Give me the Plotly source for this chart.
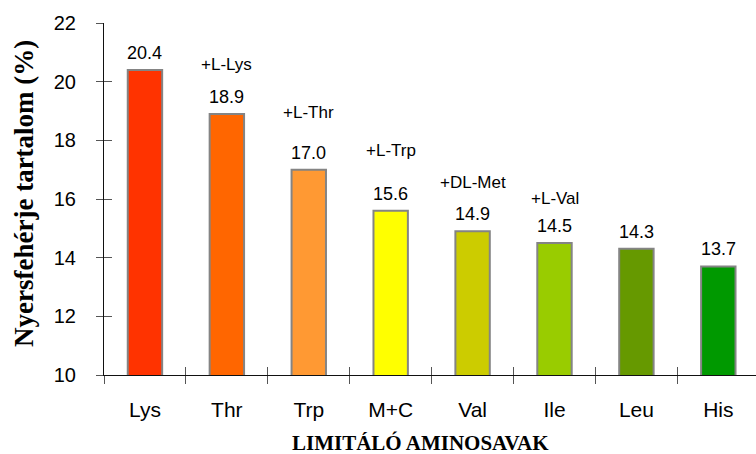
import plotly.graph_objects as go

# Limiting amino acids and crude protein content (%)
categories = ["Lys", "Thr", "Trp", "M+C", "Val", "Ile", "Leu", "His"]
protein = [20.4, 18.9, 17.0, 15.6, 14.9, 14.5, 14.3, 13.7]
bar_colors = ["#FF3300", "#FF6600", "#FF9933", "#FFFF00",
              "#CCCC00", "#99CC00", "#669900", "#009900"]

# Supplement notes shown above the bars
supplements = ["+L-Lys", "+L-Thr", "+L-Trp", "+DL-Met", "+L-Val"]
supplement_cats = ["Thr", "Trp", "M+C", "Val", "Ile"]
supplement_y = [20.57, 18.94, 17.65, 16.55, 16.03]

y_ticks = [10, 12, 14, 16, 18, 20, 22]

SANS = "Arial, Liberation Sans, sans-serif"
SERIF = "Times New Roman, Liberation Serif, serif"
X_RANGE = [-0.5, 7.46]
Y_RANGE = [10, 22]

fig = go.Figure()
fig.add_trace(go.Bar(
    x=categories,
    y=protein,
    width=0.42,
    marker=dict(color=bar_colors, line=dict(color="#848484", width=2)),
    showlegend=False,
    hoverinfo="x+y",
))
# empty traces so the companion tick axes are always rendered
fig.add_trace(go.Scatter(x=[], y=[], xaxis="x2", yaxis="y", showlegend=False, hoverinfo="skip"))
fig.add_trace(go.Scatter(x=[], y=[], xaxis="x", yaxis="y2", showlegend=False, hoverinfo="skip"))

# value labels above each bar
for cat, val in zip(categories, protein):
    fig.add_annotation(
        x=cat, y=val, text=f"{val:.1f}", showarrow=False,
        yanchor="middle", yshift=17,
        font=dict(family=SANS, size=18, color="#000000"),
    )

# supplement labels
for cat, txt, yy in zip(supplement_cats, supplements, supplement_y):
    fig.add_annotation(
        x=cat, y=yy, text=txt, showarrow=False, yanchor="middle",
        font=dict(family=SANS, size=17, color="#000000"),
    )

# axis titles
fig.add_annotation(
    xref="paper", yref="paper", x=-0.1227, y=0.517,
    text="<b>Nyersfehérje tartalom (%)</b>", textangle=-90,
    showarrow=False, xanchor="center", yanchor="middle",
    font=dict(family=SERIF, size=27, color="#000000"),
)
fig.add_annotation(
    xref="paper", yref="paper", x=0.486, y=-0.194,
    text="<b>LIMITÁLÓ AMINOSAVAK</b>",
    showarrow=False, xanchor="center", yanchor="middle",
    font=dict(family=SERIF, size=21, color="#000000"),
)

fig.update_layout(
    width=756, height=454,
    margin=dict(l=104, r=0, t=23, b=79),
    paper_bgcolor="white", plot_bgcolor="white",
    bargap=0.58,
    xaxis=dict(
        type="category", categoryorder="array", categoryarray=categories,
        range=X_RANGE, tickson="boundaries",
        ticks="outside", ticklen=8, tickcolor="#555555", tickwidth=1,
        ticklabelstandoff=16,
        showline=True, linecolor="#111111", linewidth=1,
        showgrid=False, zeroline=False,
        tickfont=dict(family=SANS, size=21, color="#000000"),
    ),
    yaxis=dict(
        range=Y_RANGE, tickvals=y_ticks,
        ticks="outside", ticklen=7, tickcolor="#555555", tickwidth=1,
        ticklabelstandoff=16,
        showline=True, linecolor="#111111", linewidth=1,
        showgrid=False, zeroline=False,
        tickfont=dict(family=SANS, size=20, color="#000000"),
    ),
    # companion axes that draw the inner half of the crossing tick marks
    xaxis2=dict(
        overlaying="x", anchor="y", range=X_RANGE,
        tickvals=[i - 0.5 for i in range(len(categories) + 1)],
        ticks="inside", ticklen=8, tickcolor="#555555", tickwidth=1,
        showticklabels=False, showline=False, showgrid=False, zeroline=False,
    ),
    yaxis2=dict(
        overlaying="y", anchor="x", side="left", range=Y_RANGE,
        tickvals=y_ticks,
        ticks="inside", ticklen=8, tickcolor="#555555", tickwidth=1,
        showticklabels=False, showline=False, showgrid=False, zeroline=False,
    ),
)

fig.write_html("out.html")
